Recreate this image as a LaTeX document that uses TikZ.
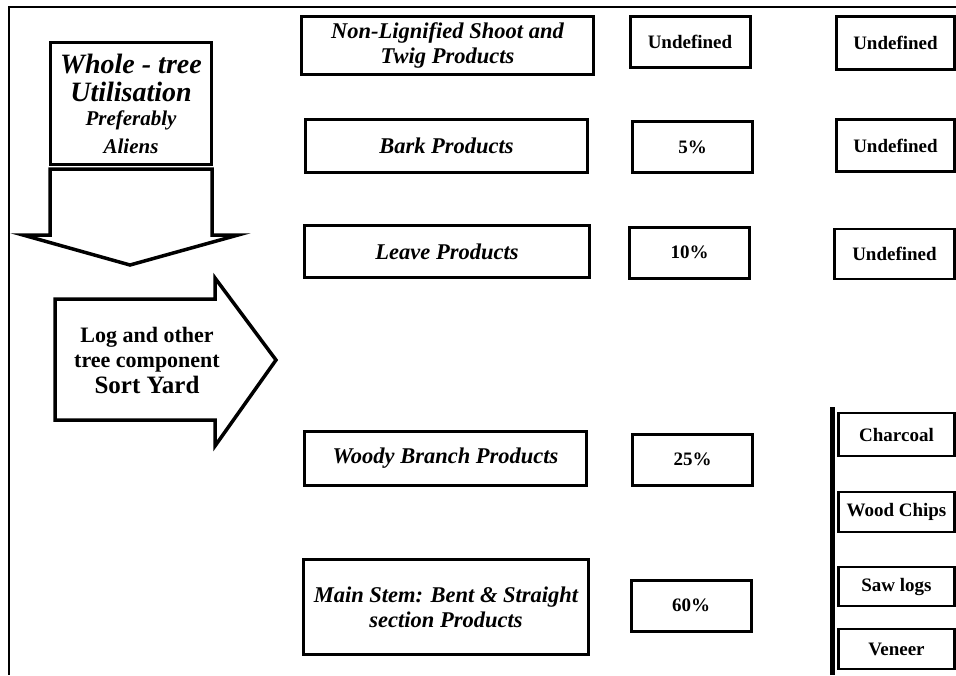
\documentclass[tikz,border=0pt]{standalone}
\usepackage{fontspec}
\setmainfont{Liberation Serif}
\newcommand\HeadFont{\fontsize{28}{28}\selectfont}
\tikzstyle{Frame} = [line width=2pt]
\tikzstyle{Block} = [line width=3.5pt, line join=miter]
\tikzstyle{Product} = [
draw, line width=3pt, align=center, inner sep=0pt,
font=\fontsize{22.5}{25}\selectfont\bfseries\itshape]
\tikzstyle{Share} = [
draw, line width=3pt, inner sep=0pt, minimum width=120pt,
minimum height=51pt, font=\fontsize{19}{22}\selectfont\bfseries]
\tikzstyle{Use} = [
draw, line width=2.5pt, inner sep=0pt, minimum width=118pt,
font=\fontsize{19}{22}\selectfont\bfseries]

\begin{document}
\begin{tikzpicture}[x=1pt, y=-1pt]
    \useasboundingbox (0,0) rectangle (956,675);
    \coordinate (top left) at (9,7);
    \coordinate (top right) at (956,7);
    \coordinate (bottom left) at (9,675);
    \draw[Frame] (top right) -- (top left) -- (bottom left);

    \node (1) [draw, line width=3pt, minimum width=161pt, minimum height=122pt,
        inner sep=0pt, align=center, font=\fontsize{21}{28}\selectfont\bfseries\itshape]
        at (131,103.5)
        {\HeadFont Whole - tree\\ \HeadFont Utilisation\\[-4pt] Preferably\\ Aliens};
    \draw[Block] (50,169) -- (212,169) -- (212,235) -- (238,235) -- (130,265)
        -- (23,235) -- (50,235) -- cycle;
    \draw[Block] (55,299) -- (215,299) -- (215,278) -- (276,360) -- (215,446)
        -- (215,420) -- (55,420) -- cycle;
    \node (2) [align=center, font=\fontsize{22}{25}\selectfont\bfseries] at (147,360)
        {Log and other\\ tree component\\[1pt] \fontsize{25}{26}\selectfont Sort Yard};

    \node (3) [Product, minimum width=292pt, minimum height=58pt] at (447.5,45.5)
        {Non-Lignified Shoot and\\ Twig Products};
    \node (4) [Product, minimum width=282pt, minimum height=53pt] at (446.5,146)
        {Bark Products};
    \node (5) [Product, minimum width=285pt, minimum height=52pt] at (447,251.5)
        {Leave Products};
    \node (6) [Product, minimum width=282pt, minimum height=54pt] at (445.5,458.5)
        {Woody Branch Products};
    \node (7) [Product, minimum width=285pt, minimum height=95pt] at (446,607)
        {Main Stem: Bent \& Straight\\ section Products};

    \node (8) [Share] at (690,41.5) {Undefined};
    \node (9) [Share] at (692.5,147) {5\%};
    \node (10) [Share] at (689.5,252.5) {10\%};
    \node (11) [Share] at (692.5,459.5) {25\%};
    \node (12) [Share] at (691,605.5) {60\%};

    \node (13) [Use, minimum height=53pt] at (895.5,43) {Undefined};
    \node (14) [Use, minimum height=52pt] at (895.5,145.5) {Undefined};
    \node (15) [Use, minimum width=120pt, minimum height=50pt] at (894.5,254) {Undefined};

    \coordinate (bar top) at (832,407);
    \coordinate (bar bottom) at (832,675);
    \draw[line width=5pt] (bar top) -- (bar bottom);
    \node (16) [Use, minimum width=116pt, minimum height=43pt] at (896.5,434.5) {Charcoal};
    \node (17) [Use, minimum width=116pt, minimum height=40pt] at (896.5,512) {Wood Chips};
    \node (18) [Use, minimum width=116pt, minimum height=39pt] at (896.5,586.5) {Saw logs};
    \node (19) [Use, minimum width=116pt, minimum height=40pt] at (896.5,649) {Veneer};
\end{tikzpicture}
\end{document}
